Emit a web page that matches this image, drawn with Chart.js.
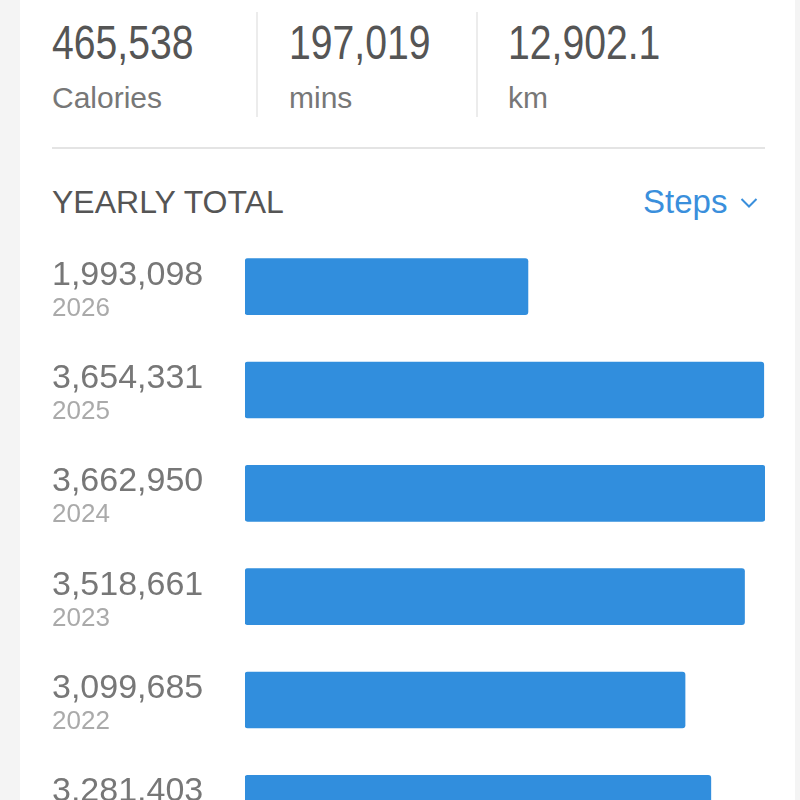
<!DOCTYPE html>
<html lang="en">
<head>
  <meta charset="UTF-8">
  <title>Yearly total</title>
  <script src="https://cdn.jsdelivr.net/npm/chart.js"></script>
  <style>
    html, body {
      margin: 0;
      padding: 0;
      width: 800px;
      height: 800px;
      overflow: hidden;
      background-color: #f4f4f4;
      font-family: "Liberation Sans", Arial, sans-serif;
    }
    #card {
      position: absolute;
      left: 20px;
      top: 0;
      width: 775px;
      height: 800px;
      background-color: #fff;
    }
    .stat {
      position: absolute;
      top: 0;
    }
    .stat .num {
      position: absolute;
      top: 19px;
      left: 0;
      font-size: 48px;
      line-height: 48px;
      color: #555;
      white-space: nowrap;
      /* condensed look of the big numbers */
      transform: scaleX(0.815);
      transform-origin: left top;
    }
    .stat .unit {
      position: absolute;
      top: 83px;
      left: 0;
      font-size: 30px;
      line-height: 30px;
      color: #777;
      white-space: nowrap;
    }
    .sep {
      position: absolute;
      top: 12px;
      width: 2px;
      height: 105px;
      background-color: #ececec;
    }
    #rule {
      position: absolute;
      left: 32px;
      top: 147px;
      width: 713px;
      height: 2px;
      background-color: #e4e4e4;
    }
    #title {
      position: absolute;
      left: 32px;
      top: 186px;
      font-size: 32px;
      line-height: 32px;
      color: #555;
      white-space: nowrap;
    }
    #metric {
      position: absolute;
      left: 623px;
      top: 185px;
      font-size: 33px;
      line-height: 33px;
      color: #3a8fdc;
      white-space: nowrap;
    }
    #metric svg {
      position: absolute;
      left: 97px;
      top: 12px;
    }
    #chart-container {
      position: absolute;
      left: 0;
      top: 235px;
      width: 775px;
      height: 620px;
    }
  </style>
</head>
<body>
  <div id="card">
    <div class="stat" style="left:32px"><div class="num">465,538</div><div class="unit">Calories</div></div>
    <div class="sep" style="left:236px"></div>
    <div class="stat" style="left:269px"><div class="num">197,019</div><div class="unit">mins</div></div>
    <div class="sep" style="left:456px"></div>
    <div class="stat" style="left:488px"><div class="num">12,902.1</div><div class="unit">km</div></div>
    <div id="rule"></div>
    <div id="title">YEARLY TOTAL</div>
    <div id="metric">Steps<svg width="18" height="12" viewBox="0 0 18 12"><polyline points="1.5,2 9,9.5 16.5,2" fill="none" stroke="#3a8fdc" stroke-width="2"/></svg></div>
    <div id="chart-container">
      <canvas id="yearChart"></canvas>
    </div>
  </div>

  <script>
    const years = ['2026', '2025', '2024', '2023', '2022', '2021'];
    const steps = [1993098, 3654331, 3662950, 3518661, 3099685, 3281403];

    // labels on the left of every bar: value on top, year underneath
    const rowLabels = {
      id: 'rowLabels',
      afterDatasetsDraw(chart) {
        const ctx = chart.ctx;
        const yScale = chart.scales.y;
        ctx.save();
        ctx.textAlign = 'left';
        ctx.textBaseline = 'alphabetic';
        years.forEach((year, i) => {
          const y = yScale.getPixelForValue(i);
          ctx.font = '34px "Liberation Sans", Arial, sans-serif';
          ctx.fillStyle = '#777';
          ctx.fillText(steps[i].toLocaleString('en-US'), 32, y - 2);
          ctx.font = '26px "Liberation Sans", Arial, sans-serif';
          ctx.fillStyle = '#aaa';
          ctx.fillText(year, 32, y + 29);
        });
        ctx.restore();
      }
    };

    const ctx = document.getElementById('yearChart').getContext('2d');
    const yearChart = new Chart(ctx, {
      type: 'bar',
      data: {
        labels: years,
        datasets: [{
          label: 'Steps',
          data: steps,
          backgroundColor: '#318edd',
          borderRadius: 3,
          borderSkipped: false,
          barThickness: 56
        }]
      },
      options: {
        indexAxis: 'y',
        responsive: true,
        maintainAspectRatio: false,
        animation: false,
        layout: {
          padding: { left: 225, right: 30, top: 0, bottom: 0 }
        },
        plugins: {
          legend: { display: false },
          tooltip: { enabled: false }
        },
        scales: {
          x: {
            display: false,
            min: 0,
            max: Math.max(...steps)
          },
          y: {
            display: false
          }
        }
      },
      plugins: [rowLabels]
    });
  </script>
</body>
</html>
